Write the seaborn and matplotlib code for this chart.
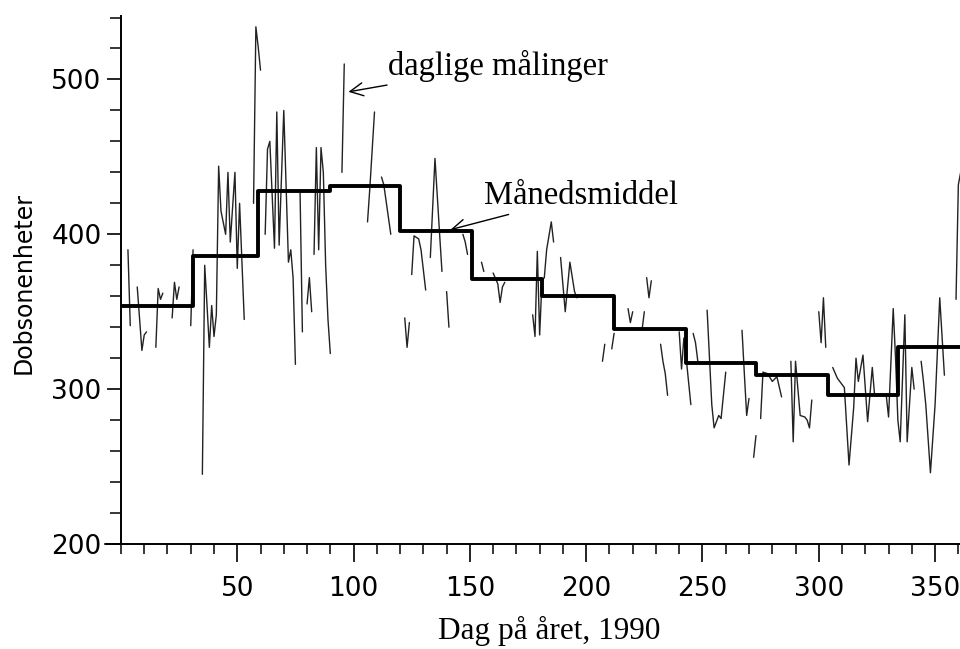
import numpy as np
import pandas as pd
import matplotlib
matplotlib.use("Agg")
import matplotlib.pyplot as plt
import seaborn as sns
from matplotlib.ticker import MultipleLocator, FixedLocator

# ---- data -------------------------------------------------------------
month_edges = [0, 31, 59, 90, 120, 151, 181, 212, 243, 273, 304, 334, 365]
monthly_mean = [354, 386, 428, 431, 402, 371, 360, 339, 317, 309, 296, 327]

# daily measurements; None separates gaps in the record
daily_day = [3, 4, None,
             7, 9, 10, 11, None,
             15, 16, 17, 18, None,
             22, 23, 24, 25, None,
             30, 31, None,
             35, 36, 37, 38, 39, 40, 41, 42, 43, 45, 46, 47, 49, 50, 51, 53, None,
             57, 58, 59, 60, None,
             62, 63, 64, 66, 67, 68, 70, 72, 73, 74, 75, None,
             77, 78, None,
             80, 81, 82, None,
             83, 84, 85, 86, 87, 88, 89, 90, None,
             95, 96, None,
             106, 107, 109, None,
             112, 113, 116, None,
             122, 123, 124, None,
             125, 126, 128, 129, 131, None,
             133, 135, 137, 138, None,
             140, 141, None,
             147, 148, 149, None,
             155, 156, None,
             160, 162, 163, 164, 165, None,
             177, 178, 179, 180, 181, 182, 183, 185, 186, None,
             189, 191, 193, 195, 196, None,
             207, 208, None,
             211, 212, None,
             218, 219, 220, None,
             224, 225, None,
             226, 227, 228, None,
             232, 233, 234, 235, None,
             240, 241, 242, 243, 245, None,
             246, 247, 248, None,
             252, 254, 255, 257, 258, 260, None,
             267, 268, 269, 270, None,
             272, 273, None,
             275, 276, 278, 280, 282, 284, None,
             288, 289, 290, 292, 294, 295, 296, 297, None,
             300, 301, 302, 303, None,
             306, 308, 309, 311, 313, 315, 316, 317, 319, 321, 323, 324, None,
             329, 330, 332, 333, 334, 335, 337, 338, 340, 341, None,
             344, 345, 346, 348, 350, 352, 354, None,
             359, 360, 361]
daily_value = [390, 341, None,
               366, 325, 335, 337, None,
               327, 365, 358, 362, None,
               346, 369, 358, 366, None,
               341, 390, None,
               245, 380, 354, 327, 354, 334, 348, 444, 415, 400, 440, 395, 440, 378, 420, 345, None,
               420, 534, 521, 506, None,
               400, 455, 460, 391, 479, 393, 480, 382, 390, 372, 316, None,
               427, 337, None,
               355, 372, 350, None,
               387, 456, 390, 456, 440, 380, 345, 323, None,
               440, 510, None,
               408, 430, 479, None,
               437, 432, 400, None,
               346, 327, 343, None,
               374, 399, 397, 390, 364, None,
               385, 449, 400, 376, None,
               363, 340, None,
               400, 395, 387, None,
               382, 376, None,
               375, 368, 356, 366, 369, None,
               348, 334, 389, 335, 370, 372, 390, 408, 395, None,
               385, 350, 382, 363, 359, None,
               318, 329, None,
               326, 336, None,
               352, 343, 350, None,
               338, 350, None,
               372, 359, 370, None,
               329, 318, 310, 296, None,
               337, 313, 333, 320, 290, None,
               336, 330, 318, None,
               351, 290, 275, 283, 281, 311, None,
               338, 310, 283, 294, None,
               256, 270, None,
               281, 311, 310, 305, 308, 295, None,
               318, 266, 318, 283, 282, 280, 275, 293, None,
               350, 330, 359, 327, None,
               314, 307, 305, 301, 251, 288, 320, 305, 322, 279, 314, 296, None,
               296, 282, 352, 320, 280, 266, 348, 266, 314, 300, None,
               318, 305, 290, 246, 290, 359, 309, None,
               358, 432, 440]

x_major = [50, 100, 150, 200, 250, 300, 350]
y_major = [200, 300, 400, 500]

# ---- build tables ----------------------------------------------------
rows = []
seg = 0
for d, v in zip(daily_day, daily_value):
    if d is None:
        seg += 1
        continue
    rows.append((d, v, seg))
daily = pd.DataFrame(rows, columns=["dag", "dobson", "seg"])

monthly = pd.DataFrame({"dag": month_edges,
                        "dobson": monthly_mean + [monthly_mean[-1]]})

# ---- plot ------------------------------------------------------------
sns.set_theme(style="ticks")
plt.rcParams["font.family"] = ["DejaVu Sans"]
plt.rcParams["text.color"] = "black"
plt.rcParams["axes.labelcolor"] = "black"

fig = plt.figure(figsize=(9.6, 6.49), dpi=100)
ax = fig.add_axes([0.126, 0.1618, 0.8747, 0.8136])

sns.lineplot(data=daily, x="dag", y="dobson", units="seg", estimator=None,
             color="#222222", linewidth=1.0, ax=ax, sort=False)
sns.lineplot(data=monthly, x="dag", y="dobson", estimator=None,
             color="black", linewidth=2.8, drawstyle="steps-post", ax=ax)

ax.set_xlim(0, 361)
ax.set_ylim(200, 541)

for s in ["top", "right"]:
    ax.spines[s].set_visible(False)
for s in ["left", "bottom"]:
    ax.spines[s].set_linewidth(1.4)
    ax.spines[s].set_color("black")
# x-axis line runs a bit to the left of the y axis
ax.plot([-0.019, 0], [0, 0], transform=ax.transAxes, color="black",
        lw=1.4, clip_on=False)

ax.xaxis.set_major_locator(FixedLocator(x_major))
ax.xaxis.set_minor_locator(MultipleLocator(10))
ax.yaxis.set_major_locator(FixedLocator(y_major))
ax.yaxis.set_minor_locator(MultipleLocator(20))
ax.tick_params(axis="x", which="both", bottom=True, direction="out",
               color="black", labelcolor="black")
ax.tick_params(axis="x", which="major", length=13, width=1.2,
               labelsize=19, pad=10)
ax.tick_params(axis="x", which="minor", length=7, width=1.1)
ax.tick_params(axis="y", which="both", left=True, direction="out",
               color="black", labelcolor="black")
ax.tick_params(axis="y", which="major", length=10, width=1.2,
               labelsize=19, pad=4)
ax.tick_params(axis="y", which="minor", length=8, width=1.1)

serif = ["Liberation Serif", "DejaVu Serif"]
ax.set_xlabel("Dag på året, 1990", family=serif, fontsize=22.5)
ax.xaxis.set_label_coords(0.51, -0.137)
ax.set_ylabel("Dobsonenheter", family=["DejaVu Sans"], fontsize=17)
ax.yaxis.set_label_coords(-0.102, 0.495)

ax.annotate("daglige målinger", xy=(97.8, 492), xytext=(115, 509),
            fontsize=23.5, family=serif, va="center", ha="left",
            arrowprops=dict(arrowstyle="->", color="black", lw=1.0,
                            shrinkA=1, shrinkB=0))
ax.annotate("Månedsmiddel", xy=(141.7, 403), xytext=(156, 425),
            fontsize=23.5, family=serif, va="center", ha="left",
            arrowprops=dict(arrowstyle="->", color="black", lw=1.0,
                            shrinkA=1, shrinkB=0))

fig.savefig("out.png", dpi=100, facecolor="white")
